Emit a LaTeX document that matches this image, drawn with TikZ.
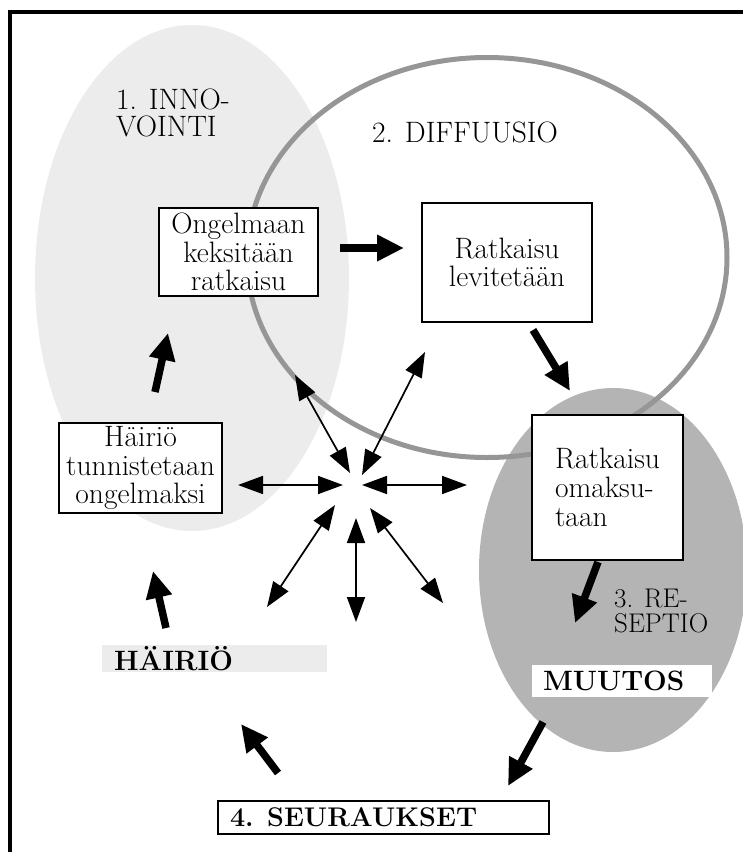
\documentclass[tikz,border=0pt]{standalone}
\usepackage{fontspec}
\usetikzlibrary{arrows.meta}
\definecolor{lightg}{RGB}{236,236,236}
\definecolor{darkg}{RGB}{180,180,180}
\definecolor{ringg}{RGB}{150,150,150}
\begin{document}
\begin{tikzpicture}[x=1pt,y=-1pt,
  boxtext/.style={font=\fontsize{29.5}{28.5}\selectfont},
  procbox/.style={draw=black, line width=2pt, fill=white, inner sep=0pt, align=center, boxtext},
  phasetext/.style={font=\fontsize{29.5}{27}\selectfont, inner sep=0pt},
  boldtag/.style={font=\fontsize{28}{27}\selectfont\bfseries, inner ysep=0pt, align=left},
  bigarrow/.style={line width=7.5pt, -{Triangle[length=27pt,width=25pt]}},
  duoarrow/.style={line width=1.7pt, {Triangle[length=25pt,width=18pt]}-{Triangle[length=25pt,width=18pt]}}
]
\useasboundingbox (0,0) rectangle (743,852);
% frame
\draw[line width=3.3pt] (10,860) -- (10,12) -- (760,12);
% ellipses
\fill[lightg] (192,278) ellipse [x radius=157pt, y radius=253pt];
\fill[darkg] (613,570) ellipse [x radius=134pt, y radius=182pt];
\draw[ringg, line width=5pt] (487,257.5) ellipse [x radius=240pt, y radius=200pt];
% phase labels
\node[phasetext, anchor=west, align=left] (lab1) at (116,113) {1. INNO-\\VOINTI};
\node[phasetext] (lab2) at (465,132) {2. DIFFUUSIO};
\node[phasetext, anchor=west, align=left, font=\fontsize{27}{25}\selectfont] (lab3) at (614,611) {3. RE-\\SEPTIO};
% boxes
\node[procbox, minimum width=159pt, minimum height=88pt] (keksi) at (238.5,252) {Ongelmaan\\keksitään\\ratkaisu};
\node[procbox, minimum width=170pt, minimum height=119pt] (levit) at (507,262.5) {Ratkaisu\\levitetään};
\node[procbox, minimum width=163pt, minimum height=90pt] (tunn) at (140.5,468) {Häiriö\\tunnistetaan\\ongelmaksi};
\node[procbox, minimum width=151pt, minimum height=145pt, align=left, font=\fontsize{29.5}{29}\selectfont] (omak) at (607.5,487.5) {Ratkaisu\\omaksu-\\taan};
\node[procbox, boldtag, text width=307pt, inner xsep=12pt, minimum height=33pt, font=\fontsize{27}{27}\selectfont\bfseries] (seur) at (383.5,817.5) {4. SEURAUKSET};
\node[boldtag, fill=lightg, text width=201pt, inner xsep=12pt, minimum height=27pt] (hairio) at (214.5,658.5) {HÄIRIÖ};
\node[boldtag, fill=white, text width=158pt, inner xsep=11pt, minimum height=32pt] (muutos) at (622,681) {MUUTOS};
% thick arrow ends
\coordinate (a1s) at (340,248); \coordinate (a1e) at (404,248);
\coordinate (a2s) at (533,330); \coordinate (a2e) at (570,391);
\coordinate (a3s) at (155,392); \coordinate (a3e) at (168,333);
\coordinate (a4s) at (598,562); \coordinate (a4e) at (575,623);
\coordinate (a5s) at (166,628); \coordinate (a5e) at (153,571);
\coordinate (a6s) at (543,722); \coordinate (a6e) at (508,786);
\coordinate (a7s) at (278,773); \coordinate (a7e) at (241,724);
\draw[bigarrow] (a1s) -- (a1e);
\draw[bigarrow] (a2s) -- (a2e);
\draw[bigarrow] (a3s) -- (a3e);
\draw[bigarrow] (a4s) -- (a4e);
\draw[bigarrow] (a5s) -- (a5e);
\draw[bigarrow] (a6s) -- (a6e);
\draw[bigarrow] (a7s) -- (a7e);
% star of double arrows
\coordinate (ulo) at (295,375); \coordinate (uli) at (350,473);
\coordinate (uro) at (425,352); \coordinate (uri) at (362,475);
\coordinate (lo) at (238,485);  \coordinate (li) at (343,485);
\coordinate (ri) at (362,485);  \coordinate (ro) at (467,485);
\coordinate (dli) at (335,505); \coordinate (dlo) at (267,607);
\coordinate (di) at (356,518);  \coordinate (do) at (356,622);
\coordinate (dri) at (370,508); \coordinate (dro) at (443,603);
\draw[duoarrow] (ulo) -- (uli);
\draw[duoarrow] (uro) -- (uri);
\draw[duoarrow] (lo) -- (li);
\draw[duoarrow] (ri) -- (ro);
\draw[duoarrow] (dli) -- (dlo);
\draw[duoarrow] (di) -- (do);
\draw[duoarrow] (dri) -- (dro);
\end{tikzpicture}
\end{document}
